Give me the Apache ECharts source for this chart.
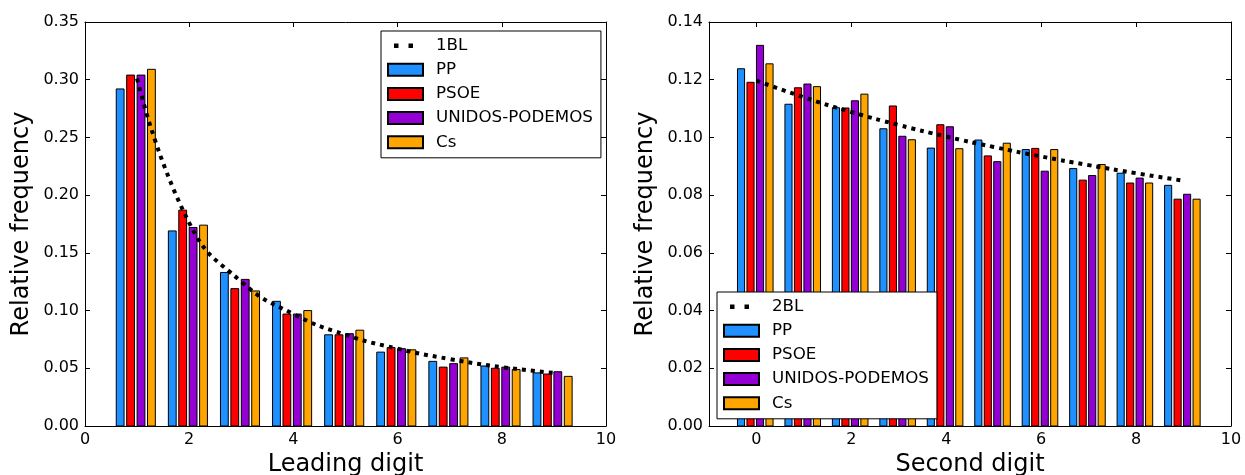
<!DOCTYPE html>
<html>
<head>
<meta charset="utf-8">
<script src="https://cdn.jsdelivr.net/npm/echarts@6/dist/echarts.min.js"></script>
<style>html,body{margin:0;padding:0;background:#fff;}#c{width:1245px;height:475px;}</style>
</head>
<body>
<div id="c"></div>
<script>
// ---- data ----
const digits1 = [1, 2, 3, 4, 5, 6, 7, 8, 9];
const digits2 = [0, 1, 2, 3, 4, 5, 6, 7, 8, 9];
const parties = ['PP', 'PSOE', 'UNIDOS-PODEMOS', 'Cs'];
const benford1 = [0.301, 0.176, 0.125, 0.097, 0.079, 0.067, 0.058, 0.051, 0.046];
const benford2 = [0.1197, 0.1139, 0.1088, 0.1043, 0.1003, 0.0967, 0.0934, 0.0904, 0.0876, 0.0850];
const first_PP    = [0.292, 0.169, 0.133, 0.108, 0.079, 0.064, 0.056, 0.052, 0.046];
const first_PSOE  = [0.304, 0.187, 0.119, 0.097, 0.079, 0.068, 0.051, 0.050, 0.045];
const first_UP    = [0.304, 0.172, 0.127, 0.097, 0.080, 0.067, 0.054, 0.051, 0.047];
const first_Cs    = [0.309, 0.174, 0.117, 0.100, 0.083, 0.066, 0.059, 0.049, 0.043];
const second_PP   = [0.1238, 0.1115, 0.1103, 0.1030, 0.0963, 0.0991, 0.0958, 0.0892, 0.0876, 0.0834];
const second_PSOE = [0.1191, 0.1172, 0.1102, 0.1109, 0.1044, 0.0936, 0.0962, 0.0852, 0.0842, 0.0786];
const second_UP   = [0.1319, 0.1185, 0.1127, 0.1004, 0.1037, 0.0916, 0.0883, 0.0868, 0.0859, 0.0803];
const second_Cs   = [0.1255, 0.1176, 0.1150, 0.0992, 0.0961, 0.0980, 0.0958, 0.0906, 0.0842, 0.0786];
const xTicks1 = [0, 2, 4, 6, 8, 10];
const xTicks2 = [0, 2, 4, 6, 8, 10];

// ---- styling ----
const colors = ['#1E90FF', '#FF0000', '#9400D3', '#FFA500'];
const barOffsets = [-0.325, -0.125, 0.075, 0.275];
const barW = 0.15;
const FONT = 'DejaVu Sans';
const dottedIcon = 'path://M0,0h0.05v0.05h-0.05z M34.95,11.95h0.05v0.05h-0.05z M6,4h4.5v4.5h-4.5z M20.5,4h4.5v4.5h-4.5z';

function renderBar(params, api) {
  const k = params.seriesIndex % 5 - 1;
  const x = api.value(0) + barOffsets[k];
  const y = api.value(1);
  const p0 = api.coord([x - barW / 2, y]);
  const p1 = api.coord([x + barW / 2, 0]);
  return {
    type: 'rect',
    shape: { x: p0[0], y: p0[1], width: p1[0] - p0[0], height: p1[1] - p0[1] },
    style: api.style()
  };
}

function pairs(xs, ys) { return xs.map((x, i) => [x, ys[i]]); }

function axisCommon() {
  return {
    axisLine: { show: true, onZero: false, lineStyle: { color: '#000', width: 1 } },
    axisTick: { show: true, inside: true, length: 5, lineStyle: { color: '#000' } },
    splitLine: { show: false },
    axisLabel: { color: '#000', fontSize: 16, fontFamily: FONT, margin: 6 },
    nameTextStyle: { color: '#000', fontSize: 24, fontFamily: FONT }
  };
}

function xAx(grid, min, max, ticks, name, pos, showLabel) {
  const a = axisCommon();
  return Object.assign(a, {
    type: 'value', gridIndex: grid, min: min, max: max, position: pos,
    name: showLabel ? name : '', nameLocation: 'middle', nameGap: 25,
    axisLabel: Object.assign(a.axisLabel, { show: showLabel, customValues: ticks }),
    axisTick: Object.assign(a.axisTick, { customValues: ticks })
  });
}
function yAx(grid, max, interval, pos, showLabel) {
  const a = axisCommon();
  return Object.assign(a, {
    type: 'value', gridIndex: grid, min: 0, max: max, interval: interval, position: pos,
    name: showLabel ? 'Relative frequency' : '', nameLocation: 'middle', nameGap: 51,
    axisLabel: Object.assign(a.axisLabel, { show: showLabel, formatter: v => v.toFixed(2) })
  });
}

const firsts = [first_PP, first_PSOE, first_UP, first_Cs];
const seconds = [second_PP, second_PSOE, second_UP, second_Cs];

const series = [];
function addPanel(grid, lineName, bx, by, xs, groups) {
  series.push({
    name: lineName, type: 'line', xAxisIndex: grid * 2, yAxisIndex: grid * 2,
    data: pairs(bx, by), smooth: true, symbol: 'none', z: 5,
    lineStyle: { color: '#000', width: 4, type: [4, 5] }, itemStyle: { color: '#000' }
  });
  groups.forEach((vals, k) => {
    series.push({
      name: parties[k], type: 'custom', xAxisIndex: grid * 2, yAxisIndex: grid * 2,
      renderItem: renderBar, data: pairs(xs, vals), z: 2,
      encode: { x: 0, y: 1 },
      itemStyle: { color: colors[k], borderColor: '#000', borderWidth: 1 }
    });
  });
}
addPanel(0, '1BL', digits1, benford1, digits1, firsts);
addPanel(1, '2BL', digits2, benford2, digits2, seconds);

function legendFor(lineName, left, top) {
  return {
    orient: 'vertical', left: left, top: top,
    data: [{ name: lineName, icon: dottedIcon, itemStyle: { color: '#000', borderWidth: 0 } }]
      .concat(parties.map(n => ({ name: n, icon: 'rect' }))),
    backgroundColor: '#fff', borderColor: '#000', borderWidth: 1, borderRadius: 0,
    padding: [6, 8, 7, 6], itemWidth: 35, itemHeight: 12, itemGap: 7.2,
    textStyle: { color: '#000', fontSize: 16.7, fontFamily: FONT, lineHeight: 16, padding: [0, 0, 0, 8] },
    selectedMode: false
  };
}

const option = {
  animation: false,
  backgroundColor: '#fff',
  textStyle: { fontFamily: FONT },
  grid: [
    { left: 85, top: 22, width: 521, height: 404, outerBoundsMode: 'none', containLabel: false },
    { left: 709, top: 22, width: 522, height: 404, outerBoundsMode: 'none', containLabel: false }
  ],
  xAxis: [
    xAx(0, 0, 10, xTicks1, 'Leading digit', 'bottom', true),
    xAx(0, 0, 10, xTicks1, '', 'top', false),
    xAx(1, -1, 10, xTicks2, 'Second digit', 'bottom', true),
    xAx(1, -1, 10, xTicks2, '', 'top', false)
  ],
  yAxis: [
    yAx(0, 0.35, 0.05, 'left', true),
    yAx(0, 0.35, 0.05, 'right', false),
    yAx(1, 0.14, 0.02, 'left', true),
    yAx(1, 0.14, 0.02, 'right', false)
  ],
  legend: [legendFor('1BL', 381, 31), legendFor('2BL', 717, 292)],
  series: series
};

const chart = echarts.init(document.getElementById('c'));
chart.setOption(option);
</script>
</body>
</html>
